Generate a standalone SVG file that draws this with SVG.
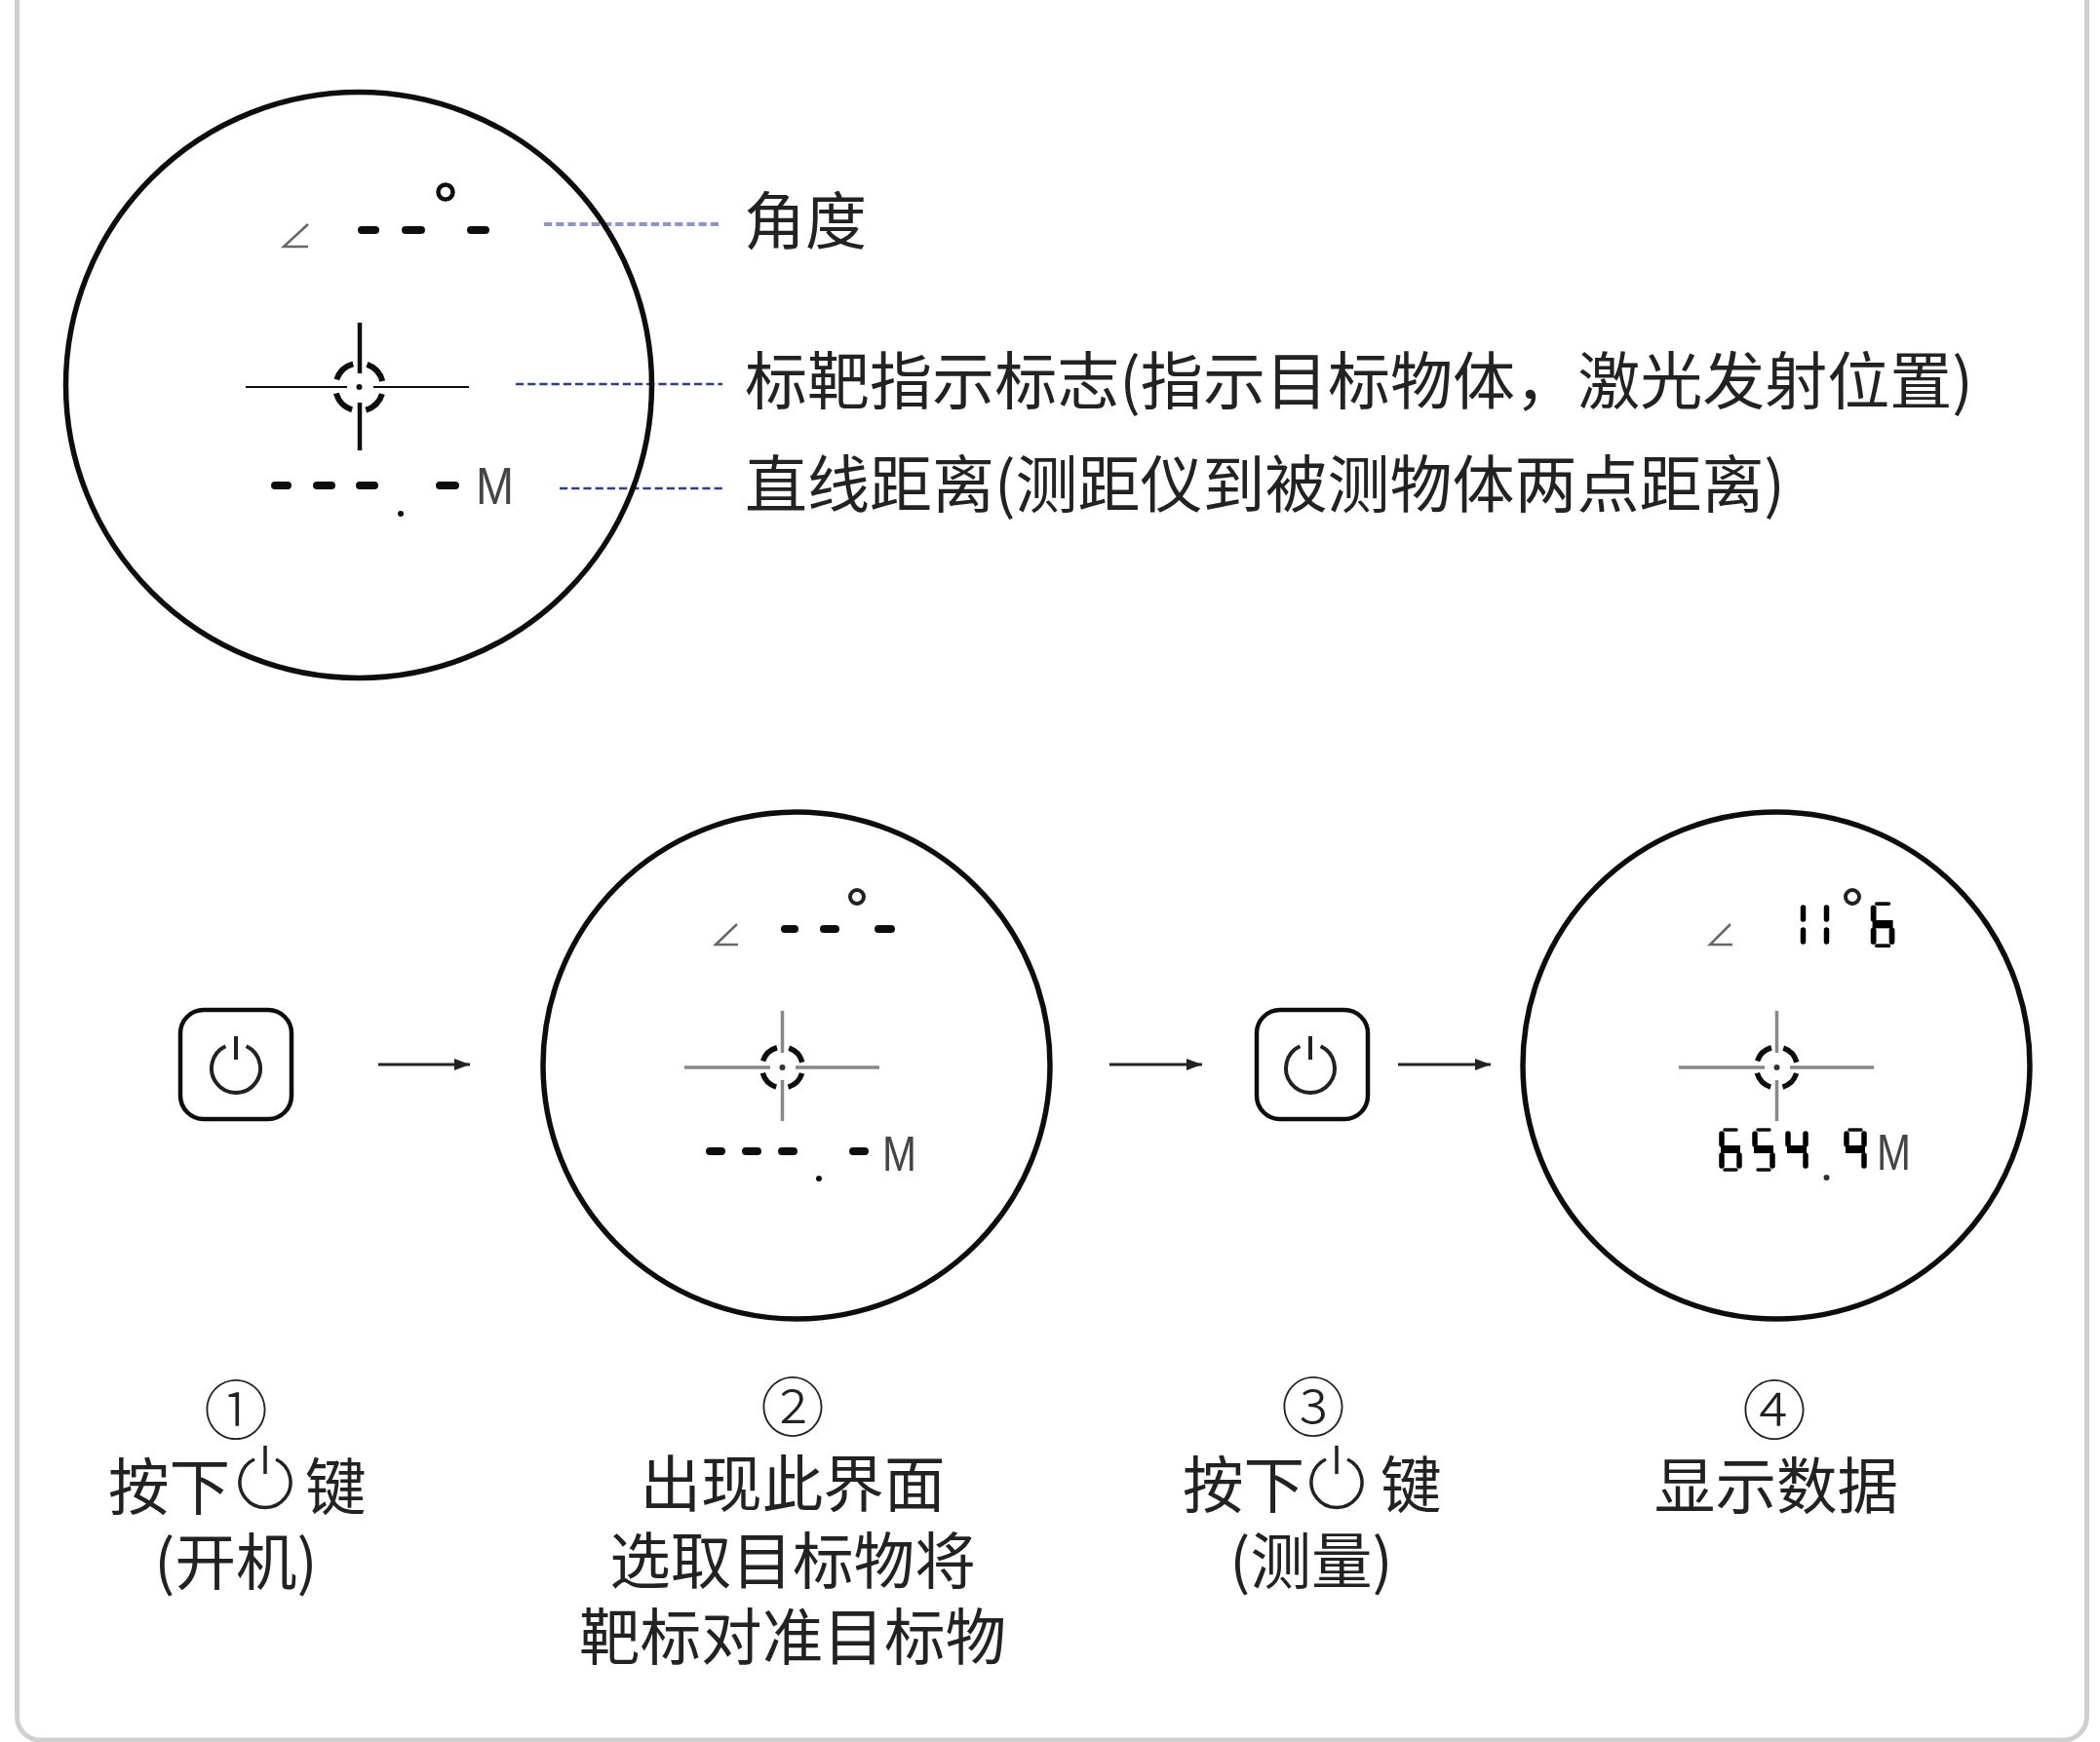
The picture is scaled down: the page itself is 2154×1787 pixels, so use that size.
<svg xmlns="http://www.w3.org/2000/svg" xmlns:xlink="http://www.w3.org/1999/xlink" width="2154" height="1787" viewBox="0 0 2154 1787">
<style>
text{font-family:"Noto Sans CJK SC","Noto Sans CJK JP",sans-serif;font-size:64px;fill:#222;font-weight:400}
.st{font-size:62.6px}
.c{text-anchor:middle}
.n{font-size:66px;font-weight:300}
.m{font-family:"Liberation Sans",Arial,sans-serif;fill:#444;font-weight:400}
.big{fill:none;stroke:#111;stroke-width:5.500}
.dash{stroke:#111;stroke-width:8;stroke-linecap:round}
.ang{fill:none;stroke:#666;stroke-width:2.500}
.ret{stroke:#888;stroke-width:3.500}
.ring{fill:none;stroke:#111;stroke-width:5.500;stroke-dasharray:20.500 12.500;stroke-dashoffset:-6.200}
.btn{fill:#fff;stroke:#111;stroke-width:4.500}
.pw{fill:none;stroke:#222;stroke-width:4}
.leader{fill:none;stroke:#2f3c8c;stroke-width:2.500;stroke-dasharray:8.200 4}
.arrow{fill:none;stroke:#222;stroke-width:3;marker-end:url(#ah)}
.t{stroke:#111;stroke-width:3.500;stroke-linecap:round;fill:none}
.s{stroke:#000;stroke-width:5.500;stroke-linecap:round;fill:none}
.g{stroke:#000;stroke-width:8;stroke-linecap:butt;fill:none}
</style>
<defs>
<filter id="soft" filterUnits="userSpaceOnUse" x="0" y="0" width="2154" height="1787"><feGaussianBlur stdDeviation="0.700"/></filter>
<marker id="ah" markerUnits="userSpaceOnUse" markerWidth="18" markerHeight="14" refX="17" refY="7" orient="auto"><path d="M1,1L17,7L1,13Z" fill="#222"/></marker>
<g id="a"><path class="t" d="M6,2H18"/></g>
<g id="d"><path class="t" d="M6,43H18"/></g>
<g id="gg"><path class="g" d="M2,22H22"/></g>
<path id="f" class="s" d="M3,6V17"/>
<path id="b" class="s" d="M21,6V17"/>
<path id="e" class="s" d="M3,28V39"/>
<path id="c" class="s" d="M21,28V39"/>
<g id="d6"><use href="#a"/><use href="#f"/><use href="#gg"/><use href="#e"/><use href="#c"/><use href="#d"/></g>
<g id="d5"><use href="#a"/><use href="#f"/><use href="#gg"/><use href="#c"/><use href="#d"/></g>
<g id="d4"><use href="#f"/><use href="#b"/><use href="#gg"/><use href="#c"/></g>
<g id="d9"><use href="#a"/><use href="#f"/><use href="#b"/><use href="#gg"/><use href="#c"/></g>
</defs>
<rect width="2154" height="1787" fill="#fff"/>
<g filter="url(#soft)">
<rect id="frame" x="17.500" y="-40" width="2123" height="1825" rx="24" fill="#fff" stroke="#cfcfcf" stroke-width="5"/>

<g id="connectors">
<path class="leader" style="stroke:#8f96c6;stroke-width:4" d="M558,230H741"/>
<path class="leader" d="M529,394H741"/>
<path class="leader" d="M574,501H741"/>
<path class="arrow" d="M388,1092H482"/>
<path class="arrow" d="M1138,1092H1233"/>
<path class="arrow" d="M1434,1092H1529"/>
</g>

<g id="view-main">
<circle class="big" cx="368" cy="395" r="300.500"/>
<path class="ang" d="M316,230L291,253H316"/>
<path class="dash" d="M371,236H385M416,236H432M483,236H498"/>
<circle cx="457" cy="197" r="7.500" fill="none" stroke="#111" stroke-width="4.500"/>
<path stroke="#111" stroke-width="2.200" d="M252,397H356M383,397H481"/>
<path stroke="#111" stroke-width="4.500" d="M369,331V383M369,413V462"/>
<circle cx="368.500" cy="397" r="24.500" fill="none" stroke="#111" stroke-width="6" stroke-dasharray="24 14.500" stroke-dashoffset="-7.300"/>
<circle cx="368.500" cy="397" r="3" fill="#111"/>
<path class="dash" d="M282,498H295M325,498H340M369,498H384M451,498H467"/>
<circle cx="411" cy="527" r="3" fill="#111"/>
<text class="m" x="488" y="517" style="font-size:54px" textLength="39" lengthAdjust="spacingAndGlyphs">M</text>
</g>

<g id="label-angle"><text x="763" y="250" textLength="126" lengthAdjust="spacingAndGlyphs">角度</text></g>
<g id="label-reticle"><text x="764" y="414" textLength="1260" lengthAdjust="spacingAndGlyphs">标靶指示标志(指示目标物体，激光发射位置)</text></g>
<g id="label-distance"><text x="764" y="520" textLength="1067" lengthAdjust="spacingAndGlyphs">直线距离(测距仪到被测物体两点距离)</text></g>

<g id="button-1">
<rect class="btn" x="185" y="1036" width="114" height="112" rx="24"/>
<path class="pw" d="M231.400,1073.300A25,25 0 1 0 252.600,1073.300M242,1063V1087"/>
</g>

<g id="view-2">
<circle class="big" cx="817" cy="1093" r="260"/>
<path class="ang" d="M756,948L734,969H757"/>
<path class="dash" d="M805,953H815M845,953H857M901,953H914"/>
<circle cx="879" cy="920" r="7" fill="none" stroke="#222" stroke-width="4"/>
<path class="ret" d="M702,1095H790M816,1095H902M802.500,1037V1080M802.500,1108V1150"/>
<circle class="ring" cx="802.500" cy="1095" r="21"/>
<circle cx="802.500" cy="1095" r="3" fill="#333"/>
<path class="dash" d="M728,1181H740M765,1181H777M802,1181H814M875,1181H887"/>
<circle cx="840" cy="1209" r="3" fill="#111"/>
<text class="m" x="905" y="1201" style="font-size:50px" textLength="35" lengthAdjust="spacingAndGlyphs">M</text>
</g>

<g id="button-3">
<rect class="btn" x="1289" y="1036" width="114" height="112" rx="24"/>
<path class="pw" d="M1333.400,1073.300A25,25 0 1 0 1354.600,1073.300M1344,1063V1087"/>
</g>

<g id="view-4">
<circle class="big" cx="1822" cy="1093" r="260"/>
<path class="ang" d="M1775,948L1754,969H1777"/>
<path class="s" d="M1849.500,931V943M1849.500,954V966M1873.500,931V943M1873.500,954V966"/>
<circle cx="1900" cy="920" r="7" fill="none" stroke="#222" stroke-width="4"/>
<use href="#d6" transform="translate(1918.500,925) scale(1.050)"/>
<path class="ret" d="M1722,1095H1810M1836,1095H1922M1822.500,1037V1080M1822.500,1108V1150"/>
<circle class="ring" cx="1822.500" cy="1095" r="21"/>
<circle cx="1822.500" cy="1095" r="3" fill="#333"/>
<use href="#d6" transform="translate(1763,1157)"/>
<use href="#d5" transform="translate(1797,1157)"/>
<use href="#d4" transform="translate(1831,1157)"/>
<use href="#d9" transform="translate(1891,1157)"/>
<circle cx="1873.500" cy="1208" r="3" fill="#333"/>
<text class="m" x="1925" y="1200" style="font-size:52px" textLength="35" lengthAdjust="spacingAndGlyphs">M</text>
</g>

<g id="step-1">
<text class="c n" x="242" y="1471">①</text>
<text class="st" x="111" y="1548">按下</text>
<path class="pw" style="stroke-width:3.500" d="M261,1497A26,26 0 1 0 283,1497M272,1483V1512"/>
<text class="st" x="313" y="1548">键</text>
<text class="c st" x="242" y="1625">(开机)</text>
</g>
<g id="step-2">
<text class="c n" x="813" y="1468">②</text>
<text class="c st" x="813" y="1545">出现此界面</text>
<text class="c st" x="813" y="1624">选取目标物将</text>
<text class="c st" x="813" y="1702">靶标对准目标物</text>
</g>
<g id="step-3">
<text class="c n" x="1347" y="1468">③</text>
<text class="st" x="1213" y="1546">按下</text>
<path class="pw" style="stroke-width:3.500" d="M1360,1497A26,26 0 1 0 1382,1497M1371,1483V1512"/>
<text class="st" x="1416" y="1546">键</text>
<text class="c st" x="1345" y="1624">(测量)</text>
</g>
<g id="step-4">
<text class="c n" x="1820" y="1471">④</text>
<text class="c st" x="1822" y="1547">显示数据</text>
</g>
</g>
</svg>
